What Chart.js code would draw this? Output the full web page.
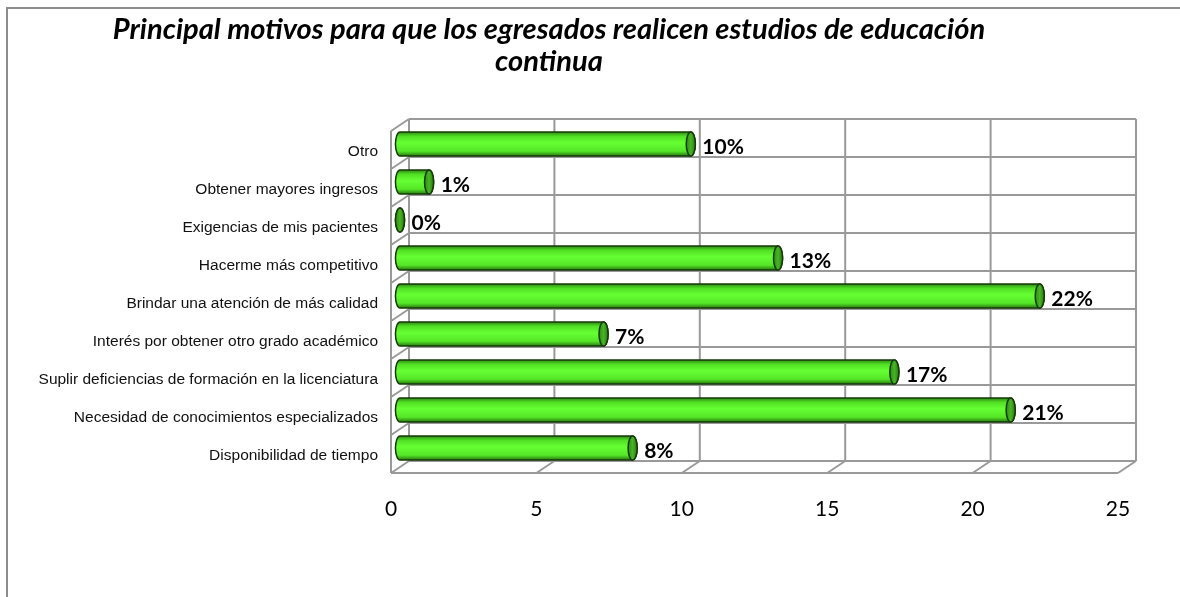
<!DOCTYPE html>
<html>
<head>
    <meta charset="UTF-8">
    <title>Principal motivos para que los egresados realicen estudios de educación continua</title>
    <script src="https://cdn.jsdelivr.net/npm/chart.js"></script>
    <style>
        body {
            margin: 0;
            background: #fff;
            overflow: hidden;
        }
        .wrap {
            position: relative;
            width: 1180px;
            height: 597px;
        }
        .marco {
            position: absolute;
            left: 6px;
            top: 7px;
            width: 1200px;
            height: 620px;
            border: 2px solid #8c8c8c;
        }
        canvas {
            position: absolute;
            left: 0;
            top: 0;
        }
    </style>
</head>
<body>
    <div class="wrap">
        <div class="marco"></div>
        <canvas id="grafico" width="1180" height="597"></canvas>
    </div>

    <script>
        // Datos
        const categorias = [
            'Otro',
            'Obtener mayores ingresos',
            'Exigencias de mis pacientes',
            'Hacerme más competitivo',
            'Brindar una atención de más calidad',
            'Interés por obtener otro grado académico',
            'Suplir deficiencias de formación en la licenciatura',
            'Necesidad de conocimientos especializados',
            'Disponibilidad de tiempo'
        ];
        const valores = [10, 1, 0, 13, 22, 7, 17, 21, 8];
        const etiquetas = ['10%', '1%', '0%', '13%', '22%', '7%', '17%', '21%', '8%'];
        const ticksX = [0, 5, 10, 15, 20, 25];
        const titulo = ['Principal motivos para que los egresados realicen estudios de educación', 'continua'];

        // profundidad del efecto 3D
        const prof = { x: 18, y: -12 };

        // paredes y piso en 3D
        const paredes = {
            id: 'paredes',
            beforeDatasetsDraw(chart) {
                const ctx = chart.ctx;
                const xs = chart.scales.x;
                const area = chart.chartArea;
                const n = categorias.length;
                const bx = prof.x / 2, by = prof.y / 2;
                const x0 = xs.getPixelForValue(ticksX[0]);
                const x1 = xs.getPixelForValue(ticksX[ticksX.length - 1]);
                const filas = [];
                for (let k = 0; k <= n; k++) {
                    filas.push(area.top + k * (area.bottom - area.top) / n);
                }
                ctx.save();
                ctx.strokeStyle = '#999999';
                ctx.lineWidth = 2;
                ctx.beginPath();
                // pared del fondo
                ticksX.forEach(v => {
                    const x = xs.getPixelForValue(v) + bx;
                    ctx.moveTo(x, area.top + by);
                    ctx.lineTo(x, area.bottom + by);
                });
                filas.forEach(y => {
                    ctx.moveTo(x0 + bx, y + by);
                    ctx.lineTo(x1 + bx, y + by);
                });
                // pared izquierda
                ctx.moveTo(x0 - bx, area.top - by);
                ctx.lineTo(x0 - bx, area.bottom - by);
                filas.forEach(y => {
                    ctx.moveTo(x0 - bx, y - by);
                    ctx.lineTo(x0 + bx, y + by);
                });
                // piso
                ctx.moveTo(x0 - bx, area.bottom - by);
                ctx.lineTo(x1 - bx, area.bottom - by);
                ticksX.forEach(v => {
                    const x = xs.getPixelForValue(v);
                    ctx.moveTo(x - bx, area.bottom - by);
                    ctx.lineTo(x + bx, area.bottom + by);
                });
                ctx.stroke();
                ctx.restore();
            }
        };

        // barras cilindricas y etiquetas
        const cilindros = {
            id: 'cilindros',
            afterDatasetsDraw(chart) {
                const ctx = chart.ctx;
                const meta = chart.getDatasetMeta(0);
                ctx.save();
                meta.data.forEach((el, i) => {
                    const y = el.y, r = el.height / 2;
                    const ini = el.base, fin = el.x;
                    const rx = r * 0.38;

                    const grad = ctx.createLinearGradient(0, y - r, 0, y + r);
                    grad.addColorStop(0, '#2c8a12');
                    grad.addColorStop(0.18, '#52e025');
                    grad.addColorStop(0.45, '#66ff33');
                    grad.addColorStop(0.8, '#55e628');
                    grad.addColorStop(1, '#267a0e');

                    ctx.beginPath();
                    ctx.moveTo(ini, y - r);
                    ctx.lineTo(fin, y - r);
                    ctx.ellipse(fin, y, rx, r, 0, -Math.PI / 2, Math.PI / 2);
                    ctx.lineTo(ini, y + r);
                    ctx.ellipse(ini, y, rx, r, 0, Math.PI / 2, Math.PI * 1.5);
                    ctx.closePath();
                    ctx.fillStyle = grad;
                    ctx.fill();
                    ctx.strokeStyle = '#163a08';
                    ctx.lineWidth = 1.5;
                    ctx.stroke();

                    // tapa
                    const gradTapa = ctx.createLinearGradient(fin - rx, 0, fin + rx, 0);
                    gradTapa.addColorStop(0, '#2f8a16');
                    gradTapa.addColorStop(0.5, '#47b524');
                    gradTapa.addColorStop(1, '#2a7a12');
                    ctx.beginPath();
                    ctx.ellipse(fin, y, rx, r, 0, 0, Math.PI * 2);
                    ctx.fillStyle = gradTapa;
                    ctx.fill();
                    ctx.stroke();

                    // etiqueta
                    ctx.fillStyle = '#000';
                    ctx.font = 'bold 21px Lato';
                    ctx.textAlign = 'left';
                    ctx.textBaseline = 'middle';
                    ctx.fillText(etiquetas[i], fin + rx + 7, y + 3);
                });
                ctx.restore();
            },
            afterDraw(chart) {
                const ctx = chart.ctx;
                ctx.save();
                let size = 24;
                ctx.font = 'italic bold ' + size + 'px Lato';
                const w = ctx.measureText(titulo[0]).width;
                size = Math.round(size * 872 / w * 10) / 10;
                ctx.font = 'italic bold ' + size + 'px Lato';
                ctx.fillStyle = '#000';
                ctx.textAlign = 'center';
                ctx.textBaseline = 'middle';
                ctx.fillText(titulo[0], 549, 30);
                ctx.fillText(titulo[1], 549, 62);
                ctx.restore();
            }
        };

        const ctx = document.getElementById('grafico').getContext('2d');
        const chart = new Chart(ctx, {
            type: 'bar',
            data: {
                labels: categorias,
                datasets: [{
                    data: valores,
                    backgroundColor: 'rgba(0,0,0,0)',
                    borderWidth: 0,
                    barPercentage: 0.63,
                    categoryPercentage: 1
                }]
            },
            options: {
                indexAxis: 'y',
                responsive: false,
                animation: false,
                layout: {
                    padding: { top: 125, right: 53, bottom: 70, left: 0 }
                },
                plugins: {
                    legend: { display: false },
                    tooltip: { enabled: false },
                    title: { display: false }
                },
                scales: {
                    x: {
                        min: 0,
                        max: 25,
                        afterBuildTicks: s => { s.ticks = ticksX.map(v => ({ value: v })); },
                        afterFit: s => { s.height = 60; },
                        grid: { display: false, drawTicks: false },
                        border: { display: false },
                        ticks: {
                            color: '#000',
                            font: { family: 'Lato', size: 21 },
                            padding: 30,
                            labelOffset: -9,
                            maxRotation: 0
                        }
                    },
                    y: {
                        afterFit: s => { s.width = 400; },
                        grid: { display: false, drawTicks: false },
                        border: { display: false },
                        ticks: {
                            color: '#111',
                            font: { family: 'Liberation Sans', size: 15.5 },
                            padding: 22,
                            labelOffset: 8
                        }
                    }
                }
            },
            plugins: [paredes, cilindros]
        });
    </script>
</body>
</html>
